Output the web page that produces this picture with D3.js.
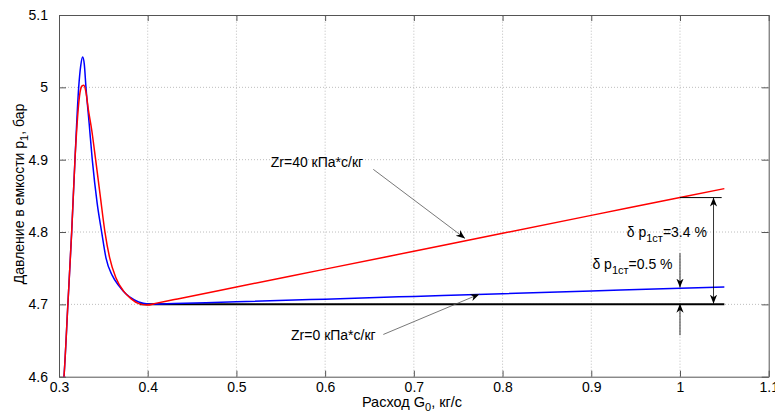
<!DOCTYPE html>
<html lang="ru">
<head>
<meta charset="UTF-8">
<title>Давление в емкости</title>
<script src="https://d3js.org/d3.v7.min.js"></script>
<style>
  body { margin: 0; background: #fff; }
  text { font-family: "Liberation Sans", Arial, sans-serif; }
</style>
</head>
<body>
<svg id="chart"></svg>
<script>
// расход G0, кг/с и давление p1, бар
var blueG = [0.302, 0.3056, 0.3100, 0.3143, 0.3180, 0.3222, 0.3245, 0.3267, 0.3285, 0.3304, 0.3340, 0.3375, 0.3430, 0.3481, 0.3530, 0.3600, 0.3680, 0.3750, 0.3850, 0.3950, 0.4050, 0.4300, 0.5000, 0.6000, 0.7000, 0.8000, 0.9000, 1.0000, 1.0500];
var blueP = [4.560, 4.600, 4.700, 4.800, 4.900, 5.000, 5.030, 5.042, 5.032, 5.000, 4.950, 4.900, 4.840, 4.800, 4.764, 4.740, 4.725, 4.715, 4.706, 4.7015, 4.7002, 4.7011, 4.7035, 4.7072, 4.7110, 4.7148, 4.7185, 4.7222, 4.7240];
var redG = [0.302, 0.3056, 0.3100, 0.3143, 0.3180, 0.3237, 0.3260, 0.3280, 0.3300, 0.3330, 0.3370, 0.3413, 0.3465, 0.3518, 0.3570, 0.3640, 0.3730, 0.3810, 0.3900, 0.3990, 0.4100, 0.4300, 0.4600, 0.5000, 0.6000, 0.7000, 0.8000, 0.9000, 1.0000, 1.0500];
var redP = [4.560, 4.600, 4.700, 4.800, 4.900, 4.993, 5.002, 5.003, 4.996, 4.970, 4.940, 4.900, 4.850, 4.800, 4.765, 4.737, 4.718, 4.708, 4.701, 4.699, 4.7017, 4.7066, 4.7140, 4.7240, 4.7487, 4.7735, 4.7983, 4.8230, 4.8476, 4.8600];
var baseG = [0.391, 1.05];
var baseP = [4.70, 4.70];

var xTicks = [0.3, 0.4, 0.5, 0.6, 0.7, 0.8, 0.9, 1, 1.1];
var yTicks = [4.6, 4.7, 4.8, 4.9, 5, 5.1];

var W = 775, H = 416;
var m = { top: 15, right: 6.3, bottom: 39.3, left: 59 };

var svg = d3.select("#chart").attr("width", W).attr("height", H);

var x = d3.scaleLinear().domain([0.3, 1.1]).range([m.left, W - m.right]);
var y = d3.scaleLinear().domain([4.6, 5.1]).range([H - m.bottom, m.top]);

var defs = svg.append("defs");
defs.append("clipPath").attr("id", "clip")
   .append("rect")
   .attr("x", m.left).attr("y", m.top)
   .attr("width", x(1.1) - x(0.3)).attr("height", y(4.6) - y(5.1));
defs.append("marker")
    .attr("id", "arr")
    .attr("viewBox", "0 0 10 10")
    .attr("refX", 10).attr("refY", 5)
    .attr("markerWidth", 9).attr("markerHeight", 9)
    .attr("markerUnits", "userSpaceOnUse")
    .attr("orient", "auto-start-reverse")
    .append("path")
    .attr("d", "M0,1 L10,5 L0,9 L3,5 Z")
    .attr("fill", "#000");

// сетка
svg.append("g").selectAll("line").data(xTicks.slice(1, -1)).join("line")
   .attr("x1", function(d) { return x(d); }).attr("x2", function(d) { return x(d); })
   .attr("y1", y(4.6)).attr("y2", y(5.1))
   .attr("stroke", "#bdbdbd").attr("stroke-dasharray", "1,2");
svg.append("g").selectAll("line").data(yTicks.slice(1, -1)).join("line")
   .attr("y1", function(d) { return y(d); }).attr("y2", function(d) { return y(d); })
   .attr("x1", x(0.3)).attr("x2", x(1.1))
   .attr("stroke", "#bdbdbd").attr("stroke-dasharray", "1,2");

// оси (засечки внутрь, рамка)
function styleAxis(g) {
    g.select(".domain").attr("stroke", "#555");
    g.selectAll(".tick line").attr("stroke", "#555");
    g.selectAll(".tick text").attr("fill", "#000").style("font-size", "14px")
     .style("font-family", "'Liberation Sans', Arial, sans-serif");
}
var fmt = function(d) { return String(d); };

svg.append("g").attr("transform", "translate(0," + y(4.6) + ")")
   .call(d3.axisBottom(x).tickValues(xTicks).tickFormat(fmt).tickSizeInner(-6).tickSizeOuter(0).tickPadding(5))
   .call(styleAxis);
svg.append("g").attr("transform", "translate(0," + y(5.1) + ")")
   .call(d3.axisTop(x).tickValues(xTicks).tickFormat("").tickSizeInner(-6).tickSizeOuter(0))
   .call(styleAxis);
svg.append("g").attr("transform", "translate(" + x(0.3) + ",0)")
   .call(d3.axisLeft(y).tickValues(yTicks).tickFormat(fmt).tickSizeInner(-7).tickSizeOuter(0).tickPadding(11))
   .call(styleAxis);
svg.append("g").attr("transform", "translate(" + x(1.1) + ",0)")
   .call(d3.axisRight(y).tickValues(yTicks).tickFormat("").tickSizeInner(-7).tickSizeOuter(0))
   .call(styleAxis);

// кривые
var plot = svg.append("g").attr("clip-path", "url(#clip)");
function lineOf(gs) {
    return d3.line()
        .x(function(d, i) { return x(gs[i]); })
        .y(function(d) { return y(d); })
        .curve(d3.curveMonotoneX);
}
plot.append("path").datum(baseP)
    .attr("fill", "none").attr("stroke", "#000").attr("stroke-width", 2)
    .attr("d", d3.line().x(function(d, i) { return x(baseG[i]); }).y(function(d) { return y(d); }));
plot.append("path").datum(blueP)
    .attr("fill", "none").attr("stroke", "#0000ff").attr("stroke-width", 1.5)
    .attr("d", lineOf(blueG));
plot.append("path").datum(redP)
    .attr("fill", "none").attr("stroke", "#ff0000").attr("stroke-width", 1.5)
    .attr("d", lineOf(redG));

// аннотации
function arrow(g0, p0, g1, p1, both) {
    var l = svg.append("line")
        .attr("x1", x(g0)).attr("y1", y(p0)).attr("x2", x(g1)).attr("y2", y(p1))
        .attr("stroke", "#000").attr("stroke-width", 0.8)
        .attr("marker-end", "url(#arr)");
    if (both) l.attr("marker-start", "url(#arr)");
    return l;
}
function label(g, p, parts) {
    var t = svg.append("text").attr("x", x(g)).attr("y", y(p))
        .style("font-size", "14px").attr("fill", "#000");
    parts.forEach(function(s) {
        var ts = t.append("tspan").text(s[0]);
        if (s[1]) ts.attr("dy", s[1]);
        if (s[2]) ts.style("font-size", s[2]);
    });
    return t;
}

label(0.5387, 4.8902, [["Zr=40 кПа*с/кг"]]);
arrow(0.6543, 4.8866, 0.7577, 4.7912).attr("stroke", "#555");
label(0.5616, 4.6505, [["Zr=0 кПа*с/кг"]]);
arrow(0.6656, 4.6584, 0.7738, 4.7141).attr("stroke", "#555");

svg.append("line")
   .attr("x1", x(1.0)).attr("x2", x(1.047))
   .attr("y1", y(4.8476)).attr("y2", y(4.8476))
   .attr("stroke", "#000").attr("stroke-width", 1);
arrow(1.0378, 4.8476, 1.0378, 4.701, true);
label(0.940, 4.7934, [["δ p"], ["1ст", "5", "11px"], ["=3.4 %", "-5", "14px"]]);

arrow(1.0, 4.7708, 1.0, 4.7232);
arrow(1.0, 4.6574, 1.0, 4.7010);
label(0.9013, 4.7487, [["δ p"], ["1ст", "5", "11px"], ["=0.5 %", "-5", "14px"]]);

// подписи осей
var xl = svg.append("text").attr("x", 412).attr("y", 407)
    .attr("text-anchor", "middle").style("font-size", "14.5px");
xl.append("tspan").text("Расход G");
xl.append("tspan").text("0").attr("dy", 4).style("font-size", "11px");
xl.append("tspan").text(", кг/с").attr("dy", -4);

var yl = svg.append("text").attr("transform", "translate(24,194) rotate(-90)")
    .attr("text-anchor", "middle").style("font-size", "14px");
yl.append("tspan").text("Давление в емкости p");
yl.append("tspan").text("1").attr("dy", 4).style("font-size", "11px");
yl.append("tspan").text(", бар").attr("dy", -4);
</script>
</body>
</html>
